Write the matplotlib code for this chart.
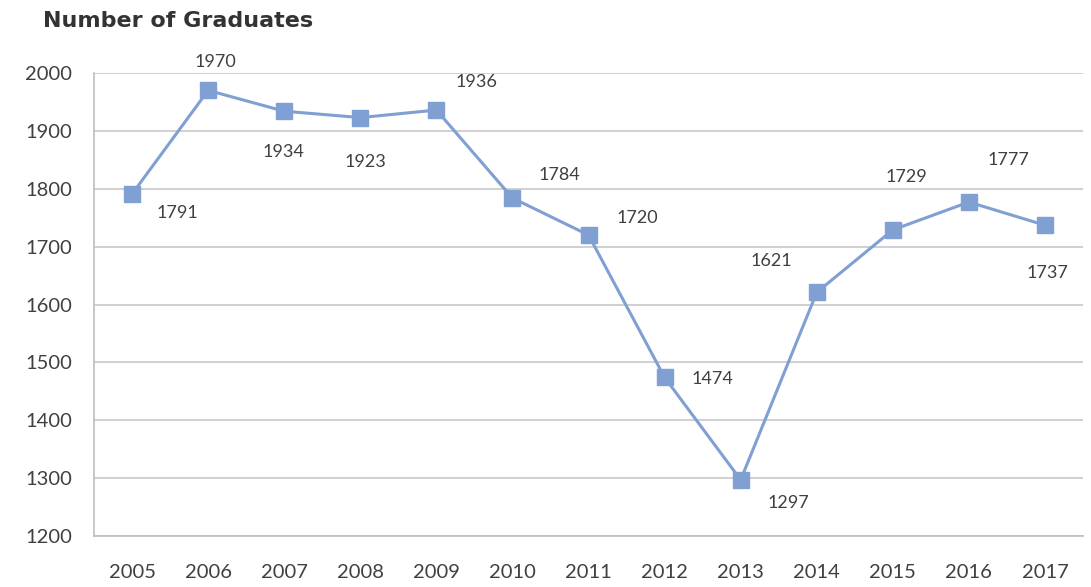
import matplotlib.pyplot as plt

years = ['2005', '2006', '2007', '2008', '2009', '2010', '2011',
         '2012', '2013', '2014', '2015', '2016', '2017']
graduates = [1791, 1970, 1934, 1923, 1936, 1784, 1720,
             1474, 1297, 1621, 1729, 1777, 1737]
# where each value label sits relative to its marker (pixels)
label_offsets = [(45, -19), (7, 28), (-1, -41), (5, -44), (40, 28), (47, 23), (49, 17),
                 (48, -2), (48, -23), (-45, 31), (14, 53), (40, 42), (2, -48)]

plt.rcParams['font.family'] = ['Lato', 'DejaVu Sans']
line_col = '#809fd2'
text_col = '#404040'

fig = plt.figure(figsize=(10.91, 5.87), dpi=100)
ax = fig.add_axes([0.0862, 0.0869, 0.9065, 0.7887])

x = list(range(len(years)))
ax.plot(x, graduates, color=line_col, lw=2.2, marker='s', ms=12,
        markerfacecolor=line_col, markeredgecolor=line_col, zorder=3)

for xi, val, (dx, dy) in zip(x, graduates, label_offsets):
    ax.annotate(str(val), (xi, val), xytext=(dx, dy), textcoords='offset pixels',
                ha='center', va='center', fontsize=13, color=text_col)

ax.set_xlim(-0.5, len(years) - 0.5)
ax.set_ylim(1200, 2000)
ax.set_yticks(range(1200, 2001, 100))
ax.set_xticks(x)
ax.set_xticklabels(years)
ax.grid(axis='y', color='#c8c8c8', lw=1.2)
ax.set_axisbelow(True)
ax.tick_params(axis='both', length=0, labelsize=14.5, colors=text_col)
ax.tick_params(axis='y', pad=16)
ax.tick_params(axis='x', pad=20)

for side in ['top', 'right']:
    ax.spines[side].set_visible(False)
for side in ['left', 'bottom']:
    ax.spines[side].set_color('#bdbdbd')
    ax.spines[side].set_linewidth(1.2)

fig.text(0.039, 0.965, 'Number of Graduates', fontsize=16, fontweight='bold',
         family='DejaVu Sans', color='#333333', va='center', ha='left')

fig.savefig('out.png', dpi=100)
